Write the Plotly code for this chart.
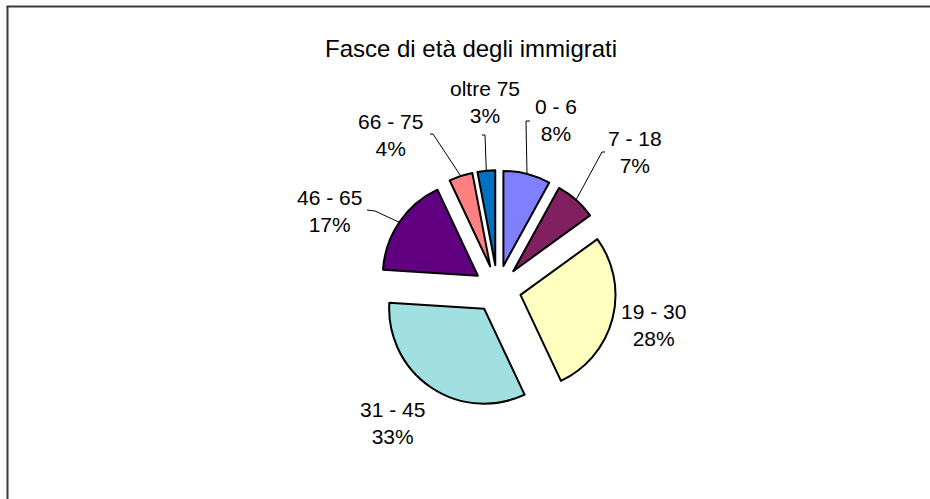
import math

import plotly.graph_objects as go

fasce = ["0 - 6", "7 - 18", "19 - 30", "31 - 45", "46 - 65", "66 - 75", "oltre 75"]
percentuali = [8, 7, 28, 33, 17, 4, 3]
colori = ["#8080FF", "#802060", "#FFFFC0", "#A0E0E0", "#600080", "#FF8080", "#0070C0"]

# posizione delle etichette (pixel, origine in alto a sinistra)
etichette_xy = [(556, 120), (635, 152), (653, 325), (392, 423), (329, 211), (390, 135), (485, 102)]
# gomito della linea guida verso l'etichetta (None = nessuna linea)
gomiti = [(526, 121), (602, 152), None, None, (375, 211), (433, 134), (485, 135)]
tacche = [(530, 121), (605, 152), None, None, (367, 210), (430, 134), (482, 135)]

W, H = 930, 499
CX, CY, R = 497.5, 289, 95
PULL = 0.25

half = R * (1 + PULL)
fig = go.Figure()
fig.add_trace(
    go.Pie(
        labels=fasce,
        values=percentuali,
        sort=False,
        direction="clockwise",
        rotation=0,
        pull=[PULL] * len(fasce),
        marker=dict(colors=colori, line=dict(color="black", width=2)),
        textinfo="none",
        hoverinfo="label+percent",
        showlegend=False,
        domain=dict(
            x=[(CX - half) / W, (CX + half) / W],
            y=[(H - CY - half) / H, (H - CY + half) / H],
        ),
    )
)

# cornice del grafico: visibili solo il lato sinistro e quello superiore
shapes = [
    dict(type="line", xref="x", yref="y", x0=7.5, y0=H, x1=7.5, y1=6.5,
         line=dict(color="#3a3a3a", width=2)),
    dict(type="line", xref="x", yref="y", x0=6.5, y0=6.5, x1=W, y1=6.5,
         line=dict(color="#3a3a3a", width=2)),
]
annotations = []
totale = sum(percentuali)
cum = 0
for nome, val, (lx, ly), gomito, tacca in zip(fasce, percentuali, etichette_xy, gomiti, tacche):
    mid = (cum + val / 2) / totale * 2 * math.pi
    cum += val
    if gomito is not None:
        ex = CX + R * PULL * math.sin(mid)
        ey = CY - R * PULL * math.cos(mid)
        ax = ex + R * math.sin(mid)
        ay = ey - R * math.cos(mid)
        shapes.append(
            dict(
                type="path",
                xref="x",
                yref="y",
                path=f"M {ax:.1f},{ay:.1f} L {gomito[0]},{gomito[1]} L {tacca[0]},{tacca[1]}",
                line=dict(color="black", width=1),
            )
        )
    annotations.append(
        dict(
            x=lx,
            y=ly,
            xref="x",
            yref="y",
            text=f"{nome}<br>{round(val / totale * 100)}%",
            showarrow=False,
            font=dict(size=21, color="black"),
            align="center",
        )
    )

annotations.append(
    dict(
        x=471,
        y=48,
        xref="x",
        yref="y",
        text="Fasce di età degli immigrati",
        showarrow=False,
        font=dict(size=24, color="black"),
    )
)

fig.update_layout(
    width=W,
    height=H,
    margin=dict(l=0, r=0, t=0, b=0),
    paper_bgcolor="white",
    plot_bgcolor="rgba(0,0,0,0)",
    font=dict(family="Liberation Sans, Arial, sans-serif"),
    xaxis=dict(range=[0, W], visible=False, fixedrange=True),
    yaxis=dict(range=[H, 0], visible=False, fixedrange=True),
    shapes=shapes,
    annotations=annotations,
)

fig.write_html(
    "out.html",
    config={"displayModeBar": False},
    post_script="document.body.style.margin='0';document.body.style.overflow='hidden';",
)
